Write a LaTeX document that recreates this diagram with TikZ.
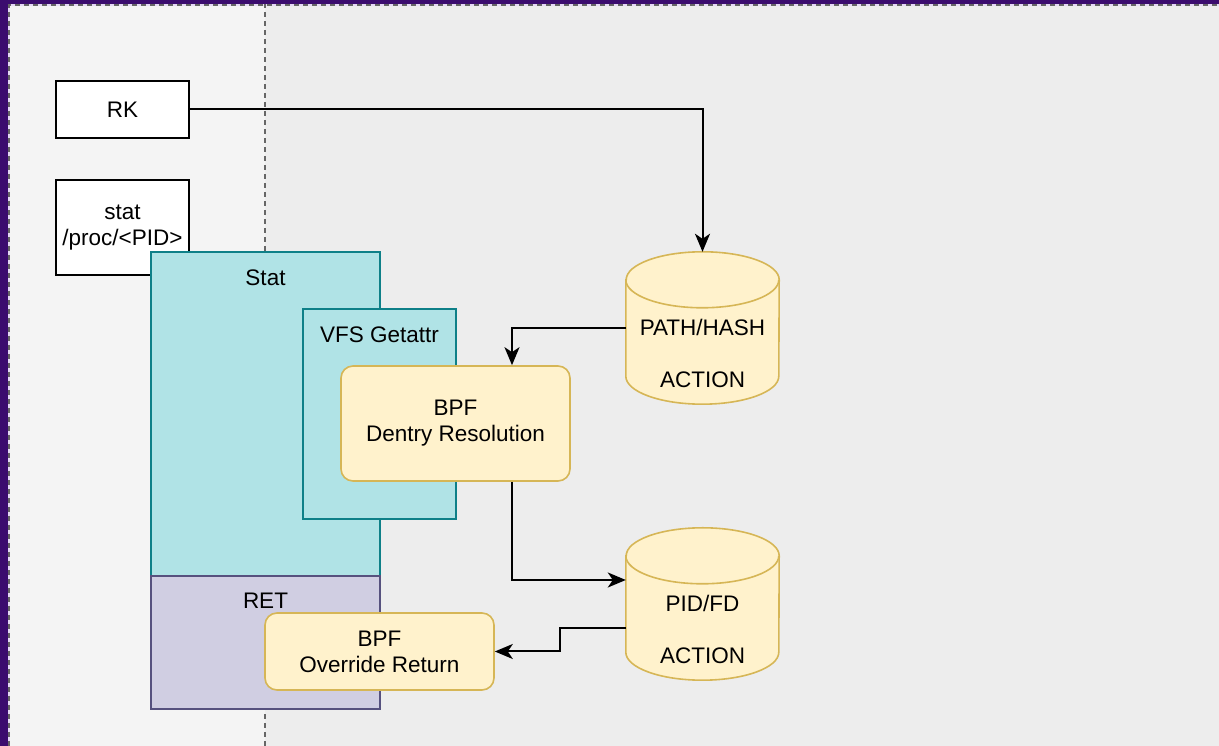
\documentclass[tikz,border=0pt]{standalone}
\usepackage{fontspec}
\setmainfont{Liberation Sans}
\usetikzlibrary{arrows.meta,calc}

\definecolor{frame}{HTML}{3B0C6E}
\definecolor{lanel}{HTML}{F4F4F4}
\definecolor{lanek}{HTML}{EDEDED}
\definecolor{tealfill}{HTML}{B0E3E6}
\definecolor{tealline}{HTML}{0E8088}
\definecolor{purpfill}{HTML}{D0CEE2}
\definecolor{purpline}{HTML}{56517E}
\definecolor{yelfill}{HTML}{FFF2CC}
\definecolor{yelline}{HTML}{D6B656}
\definecolor{lav}{HTML}{E6DAF6}

\tikzset{
  x=1pt, y=1pt,
  every node/.style={font=\fontsize{22.5}{26}\selectfont, align=center, inner sep=0pt},
  plainbox/.style={draw=black, fill=white, line width=1.6pt},
  tealbox/.style={draw=tealline, fill=tealfill, line width=1.6pt},
  retbox/.style={draw=purpline, fill=purpfill, line width=1.6pt},
  bpfbox/.style={draw=yelline, fill=yelfill, line width=1.6pt, rounded corners=12pt},
  cylfill/.style={draw=yelline, fill=yelfill, line width=1.6pt},
  flow/.style={draw=black, line width=2pt, -{Stealth[length=18pt,width=15pt,inset=5pt]}},
  lanesep/.style={draw=gray!80!black, line width=1.2pt, dash pattern=on 5pt off 4pt},
}

\newcommand{\drawcyl}[1]{%
  \path[cylfill] ($(#1.north west)+(0,-28)$) -- ($(#1.south west)+(0,28)$)
    arc[start angle=180,end angle=360,x radius=76.5,y radius=28]
    -- ($(#1.north east)+(0,-28)$)
    arc[start angle=0,end angle=180,x radius=76.5,y radius=28] -- cycle;
  \draw[yelline, line width=1.6pt] ($(#1.north west)+(0,-28)$)
    arc[start angle=180,end angle=360,x radius=76.5,y radius=28];
}

\begin{document}
\begin{tikzpicture}
\useasboundingbox (0,0) rectangle (1219,746);

% outer frame and the two lanes
\fill[frame] (0,0) rectangle (1219,746);
\fill[lanel] (8,0) rectangle (265,742);
\fill[lanek] (265,0) rectangle (1219,742);
\draw[lav, line width=1.5pt] (9,0) -- (9,741) -- (1219,741);
\draw[lanesep] (9,0) -- (9,741) -- (1219,741);
\draw[lanesep] (265,0) -- (265,742);

% user space callers
\node[plainbox, minimum width=133pt, minimum height=57pt] (rk) at (122.5,636.5) {RK};
\node[plainbox, minimum width=133pt, minimum height=95pt] (statcmd) at (122.5,518.5) {stat\\/proc/<PID>};

% kernel call stack
\node[tealbox, minimum width=229pt, minimum height=324pt] (stat) at (265.5,332) {};
\node at (265.5,468) {Stat};
\node[tealbox, minimum width=153pt, minimum height=210pt] (vfs) at (379.5,332) {};
\node at (379.5,411) {VFS Getattr};
\node[bpfbox, minimum width=229pt, minimum height=115pt] (dent) at (455.5,322.5) {BPF\\Dentry Resolution};
\node[retbox, minimum width=229pt, minimum height=133pt] (ret) at (265.5,103.5) {};
\node at (265.5,145) {RET};
\node[bpfbox, minimum width=229pt, minimum height=77pt] (ovr) at (379.5,94.5) {BPF\\Override Return};

% eBPF maps
\node[minimum width=153pt, minimum height=152pt] (ph) at (702.5,418) {};
\drawcyl{ph}
\node at (702.5,419) {PATH/HASH};
\node at (702.5,366) {ACTION};

\node[minimum width=153pt, minimum height=152pt] (pf) at (702.5,142) {};
\drawcyl{pf}
\node at (702.5,143) {PID/FD};
\node at (702.5,90) {ACTION};

% flows
\draw[flow] (rk.east) -| (ph.north);
\draw[flow] (ph.west) -| ([xshift=56.5pt]dent.north);
\draw[flow] ([xshift=56.5pt]dent.south) |- ([yshift=24pt]pf.west);
\coordinate (bend) at (560,118);
\draw[flow] ([yshift=-24pt]pf.west) -- (bend) |- (ovr.east);
\end{tikzpicture}
\end{document}
